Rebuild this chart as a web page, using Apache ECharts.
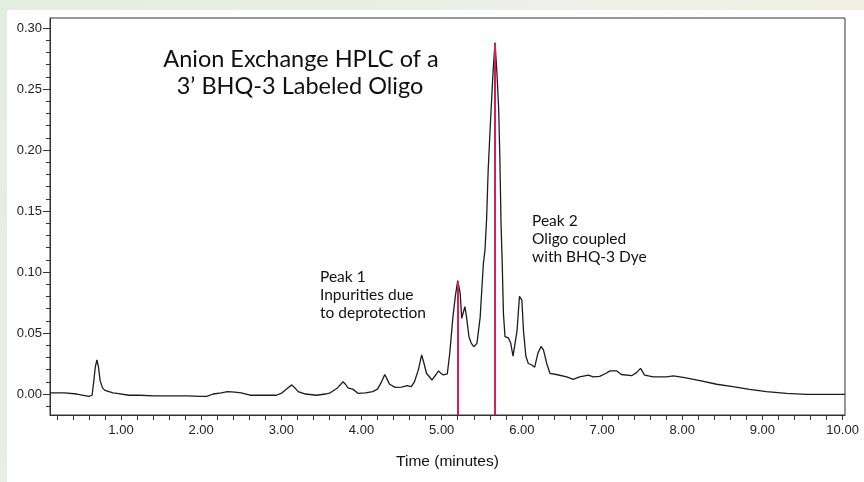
<!DOCTYPE html>
<html>
<head>
<meta charset="utf-8">
<script src="https://cdn.jsdelivr.net/npm/echarts@6/dist/echarts.min.js"></script>
<style>
  html, body { margin: 0; padding: 0; }
  #chart { width: 864px; height: 482px; }
</style>
</head>
<body>
<div id="chart"></div>
<script>
// ---- data (time in minutes, absorbance) ----
const times = [
  0.12, 0.30, 0.45, 0.60, 0.64, 0.66, 0.68, 0.70, 0.72, 0.74, 0.77, 0.80, 0.90, 0.95,
  1.10, 1.24, 1.40, 1.60, 1.82, 2.00, 2.07, 2.15, 2.25, 2.33, 2.42, 2.50, 2.61, 2.80,
  2.94, 3.01, 3.08, 3.13, 3.17, 3.21, 3.30, 3.44, 3.55, 3.61, 3.70, 3.77, 3.80, 3.83,
  3.89, 3.96, 4.05, 4.14, 4.20, 4.25, 4.29, 4.32, 4.35, 4.42, 4.50, 4.57, 4.62, 4.66,
  4.71, 4.75, 4.78, 4.81, 4.88, 4.93, 4.96, 4.99, 5.02, 5.07, 5.10, 5.14, 5.17, 5.20,
  5.23, 5.25, 5.27, 5.29, 5.31, 5.34, 5.37, 5.40, 5.44, 5.48, 5.50, 5.52, 5.54, 5.56,
  5.58, 5.61, 5.64, 5.665, 5.69, 5.71, 5.725, 5.74, 5.755, 5.77, 5.79, 5.83, 5.86,
  5.89, 5.91, 5.94, 5.97, 5.985, 6.00, 6.02, 6.05, 6.08, 6.12, 6.16, 6.20, 6.24, 6.27,
  6.31, 6.35, 6.43, 6.56, 6.64, 6.72, 6.83, 6.89, 6.97, 7.05, 7.10, 7.18, 7.24, 7.37,
  7.43, 7.48, 7.53, 7.64, 7.80, 7.89, 8.03, 8.22, 8.43, 8.63, 8.84, 9.05, 9.30, 9.55,
  10.03
];
const absorbance = [
  0.001, 0.001, 0.000, -0.002, -0.001, 0.010, 0.022, 0.028, 0.022, 0.011, 0.005, 0.003, 0.001, 0.0005,
  -0.001, -0.001, -0.0015, -0.0015, -0.0016, -0.002, -0.002, 0.000, 0.001, 0.002, 0.0015, 0.001, -0.001, -0.001,
  -0.001, 0.001, 0.005, 0.0075, 0.005, 0.002, 0.000, -0.001, 0.000, 0.001, 0.005, 0.010, 0.008, 0.005,
  0.004, 0.0005, 0.001, 0.002, 0.004, 0.010, 0.016, 0.012, 0.008, 0.0055, 0.0057, 0.0068, 0.006, 0.010,
  0.020, 0.032, 0.025, 0.017, 0.0115, 0.016, 0.019, 0.017, 0.0156, 0.0165, 0.033, 0.063, 0.080, 0.093,
  0.083, 0.062, 0.067, 0.0716, 0.063, 0.047, 0.0415, 0.0388, 0.0415, 0.063, 0.085, 0.107, 0.118, 0.143,
  0.184, 0.225, 0.263, 0.288, 0.262, 0.235, 0.195, 0.140, 0.107, 0.066, 0.047, 0.046, 0.042,
  0.031, 0.0295, 0.052, 0.080, 0.081, 0.077, 0.052, 0.031, 0.025, 0.024, 0.022, 0.0335, 0.039, 0.036,
  0.025, 0.017, 0.016, 0.014, 0.012, 0.014, 0.0155, 0.014, 0.0145, 0.017, 0.019, 0.019, 0.016, 0.015,
  0.0175, 0.021, 0.0155, 0.014, 0.014, 0.0148, 0.0134, 0.011, 0.008, 0.006, 0.0038, 0.0019, 0.0005, -0.0003,
  -0.0003
];
// fraction-collection markers (red lines)
const markerTimes = [5.20, 5.665];
const markerTops = [0.092, 0.287];

// tick labels
const xTickLabels = [1, 2, 3, 4, 5, 6, 7, 8, 9, 10];
const yTickLabels = [0.00, 0.05, 0.10, 0.15, 0.20, 0.25, 0.30];

// texts
const titleLines = ['Anion Exchange HPLC of a', '3\u2019 BHQ-3 Labeled Oligo'];
const peak1Lines = ['Peak 1', 'Inpurities due', 'to deprotection'];
const peak2Lines = ['Peak 2', 'Oligo coupled', 'with BHQ-3 Dye'];
const xAxisName = 'Time (minutes)';

// ---- build ----
const X_MIN = 0.115, X_MAX = 10.03, Y_MIN = -0.0172, Y_MAX = 0.3082;

const seriesData = times.map((t, i) => [t, absorbance[i]]);

const xMinorTicks = [];
for (let k = 1; k <= 50; k++) xMinorTicks.push(+(k * 0.2).toFixed(1));
const yMajorTicks = yTickLabels.slice();
const yMinorTicks = [];
for (let k = -1; k <= 30; k++) { if (k % 5 !== 0) yMinorTicks.push(+(k * 0.01).toFixed(2)); }

const markLineData = markerTimes.map((t, i) => [
  { coord: [t, Y_MIN] },
  { coord: [t, markerTops[i]] }
]);

const textFont = 'Lato, "Open Sans", sans-serif';
const tickFont = '"Liberation Sans", Arial, sans-serif';

const chart = echarts.init(document.getElementById('chart'), null, { renderer: 'canvas' });

const option = {
  animation: false,
  backgroundColor: new echarts.graphic.LinearGradient(0, 0, 1, 1, [
    { offset: 0, color: '#e4ede1' },
    { offset: 0.5, color: '#edf0e8' },
    { offset: 1, color: '#f6efdf' }
  ]),
  graphic: [
    { type: 'rect', z: -10, shape: { x: 7, y: 10, width: 857, height: 472 }, style: { fill: '#ffffff' }, silent: true },
    { type: 'text', z: 10, style: { x: 301, y: 59, text: titleLines[0], align: 'center', verticalAlign: 'middle', font: '23.5px ' + textFont, fill: '#111' } },
    { type: 'text', z: 10, style: { x: 300, y: 86, text: titleLines[1], align: 'center', verticalAlign: 'middle', font: '23.5px ' + textFont, fill: '#111' } },
    { type: 'text', z: 10, style: { x: 320, y: 268, text: peak1Lines.join('\n'), lineHeight: 18, align: 'left', verticalAlign: 'top', font: '15.5px ' + textFont, fill: '#111' } },
    { type: 'text', z: 10, style: { x: 532, y: 212, text: peak2Lines.join('\n'), lineHeight: 18, align: 'left', verticalAlign: 'top', font: '15.5px ' + textFont, fill: '#111' } }
  ],
  grid: {
    left: 50, right: 19, top: 18, bottom: 67,
    show: true, backgroundColor: '#ffffff', borderColor: '#333', borderWidth: 1,
    outerBoundsMode: 'none'
  },
  xAxis: {
    type: 'value', min: X_MIN, max: X_MAX,
    name: xAxisName, nameLocation: 'middle', nameGap: 39,
    nameTextStyle: { fontFamily: tickFont, fontSize: 15.5, color: '#111' },
    axisLine: { show: true, onZero: false, lineStyle: { color: '#333', width: 1 } },
    axisTick: { show: true, inside: false, length: 5, customValues: xMinorTicks, lineStyle: { color: '#333' } },
    axisLabel: {
      show: true, customValues: xTickLabels, margin: 9,
      fontFamily: tickFont, fontSize: 13, color: '#222',
      formatter: v => v.toFixed(2)
    },
    splitLine: { show: false }
  },
  yAxis: [
    {
      type: 'value', min: Y_MIN, max: Y_MAX, position: 'left',
      axisLine: { show: true, onZero: false, lineStyle: { color: '#333', width: 1 } },
      axisTick: { show: true, inside: false, length: 7, customValues: yMajorTicks, lineStyle: { color: '#333' } },
      axisLabel: {
        show: true, customValues: yTickLabels, margin: 8,
        fontFamily: tickFont, fontSize: 13, color: '#222',
        formatter: v => v.toFixed(2)
      },
      splitLine: { show: false }
    },
    {
      type: 'value', min: Y_MIN, max: Y_MAX, position: 'left', offset: 0,
      axisLine: { show: false },
      axisTick: { show: true, inside: false, length: 4, customValues: yMinorTicks, lineStyle: { color: '#333' } },
      axisLabel: { show: false },
      splitLine: { show: false }
    }
  ],
  series: [
    {
      type: 'line', xAxisIndex: 0, yAxisIndex: 0,
      data: seriesData, showSymbol: false, symbol: 'none', smooth: false,
      lineStyle: { color: '#1c1c1c', width: 1.3 },
      z: 3,
      markLine: {
        silent: true, symbol: ['none', 'none'], animation: false,
        label: { show: false },
        lineStyle: { color: '#d81d5c', width: 2, type: 'solid' },
        emphasis: { disabled: true },
        data: markLineData
      }
    }
  ]
};
chart.setOption(option);
</script>
</body>
</html>
